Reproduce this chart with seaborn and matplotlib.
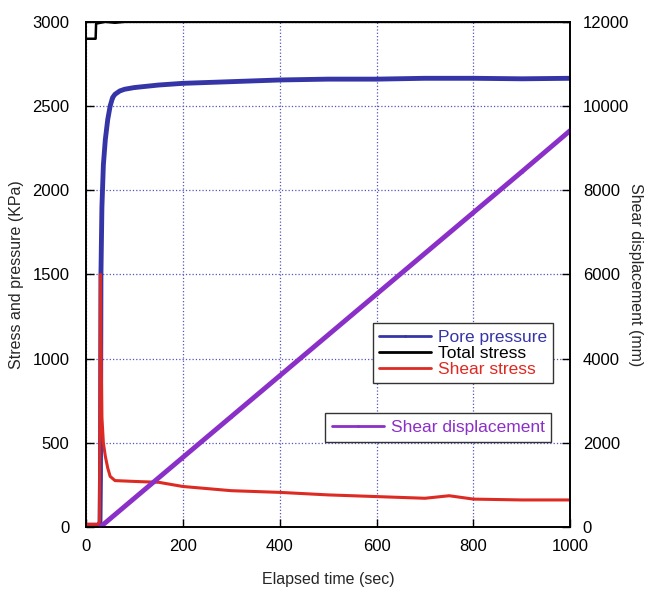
import numpy as np
import pandas as pd
import matplotlib.pyplot as plt
import seaborn as sns
from matplotlib.lines import Line2D

sns.set_style("ticks")
plt.rcParams["font.family"] = ["Liberation Sans", "DejaVu Sans"]

# data
pore_t = [0, 25, 29, 30, 31, 33, 36, 40, 45, 50, 55, 60, 70, 80, 100, 150, 200, 300, 400, 500, 600, 700, 800, 900, 1000]
pore_p = [10, 10, 15, 300, 1500, 1900, 2150, 2300, 2420, 2500, 2550, 2570, 2590, 2600, 2610, 2625, 2635, 2645, 2655, 2660, 2660, 2665, 2665, 2662, 2665]

total_t = [0, 20, 21, 30, 40, 60, 80, 1000]
total_s = [2900, 2900, 2990, 2995, 3000, 2995, 3000, 3000]

shear_t = [0, 25, 28, 30, 31, 33, 36, 40, 45, 50, 60, 100, 150, 200, 300, 400, 500, 600, 700, 750, 800, 900, 1000]
shear_s = [15, 15, 30, 1500, 1100, 650, 500, 420, 350, 300, 275, 270, 265, 240, 215, 205, 190, 180, 170, 185, 165, 160, 160]

disp_t = [30, 100, 200, 300, 400, 500, 600, 700, 800, 900, 1000]
disp_mm = [0, 680, 1650, 2620, 3590, 4560, 5530, 6500, 7470, 8440, 9420]

blue = "#3535a8"
red = "#dd2a22"
purple = "#8a2fc8"

fig = plt.figure(figsize=(6.51, 5.92), dpi=100)
ax = fig.add_axes([0.132, 0.110, 0.744, 0.853])
ax2 = ax.twinx()

mk = dict(marker=".", markersize=4, markeredgewidth=0)
sns.lineplot(x=total_t, y=total_s, ax=ax, color="black", linewidth=1.8, legend=False)
sns.lineplot(x=pore_t, y=pore_p, ax=ax, color=blue, linewidth=3.5, legend=False, **mk)
sns.lineplot(x=shear_t, y=shear_s, ax=ax, color=red, linewidth=2.2, legend=False)
sns.lineplot(x=disp_t, y=disp_mm, ax=ax2, color=purple, linewidth=3.5, legend=False, **mk)

ax.set_xlim(0, 1000)
ax.set_ylim(0, 3000)
ax2.set_ylim(0, 12000)
ax.set_xticks(range(0, 1001, 200))
ax.set_yticks(range(0, 3001, 500))
ax2.set_yticks(range(0, 12001, 2000))
ax.grid(True, color="#5555bb", linestyle=":", linewidth=0.9)
for a in (ax, ax2):
    a.tick_params(direction="in", length=6, width=1, labelsize=12, colors="black")
    for s in a.spines.values():
        s.set_linewidth(1.2)
        s.set_color("black")
ax.tick_params(axis="x", pad=9)
ax.tick_params(axis="y", pad=12)
ax2.tick_params(axis="y", pad=9)

ax.set_xlabel("Elapsed time (sec)", fontsize=11.5, labelpad=13)
ax.set_ylabel("Stress and pressure (KPa)", fontsize=11.5, labelpad=6)
ax2.set_ylabel("Shear displacement (mm)", fontsize=11.5, rotation=270, labelpad=10)

h1 = [Line2D([], [], color=blue, lw=2, **mk),
      Line2D([], [], color="black", lw=2),
      Line2D([], [], color=red, lw=2)]
leg1 = ax2.legend(h1, ["Pore pressure", "Total stress", "Shear stress"],
                  loc="upper right", bbox_to_anchor=(0.983, 0.42), fontsize=12.5,
                  frameon=True, fancybox=False, edgecolor="#333333", framealpha=1,
                  handlelength=3.0, handletextpad=0.4, labelspacing=0.05, borderpad=0.35)
for t, c in zip(leg1.get_texts(), [blue, "black", red]):
    t.set_color(c)
ax2.add_artist(leg1)
h2 = [Line2D([], [], color=purple, lw=2, **mk)]
leg2 = ax2.legend(h2, ["Shear displacement"], loc="upper right", bbox_to_anchor=(0.979, 0.242),
                  fontsize=12.5, frameon=True, fancybox=False, edgecolor="#333333", framealpha=1,
                  handlelength=3.0, handletextpad=0.4, borderpad=0.4)
leg2.get_texts()[0].set_color(purple)

fig.savefig("out.png", dpi=100)
